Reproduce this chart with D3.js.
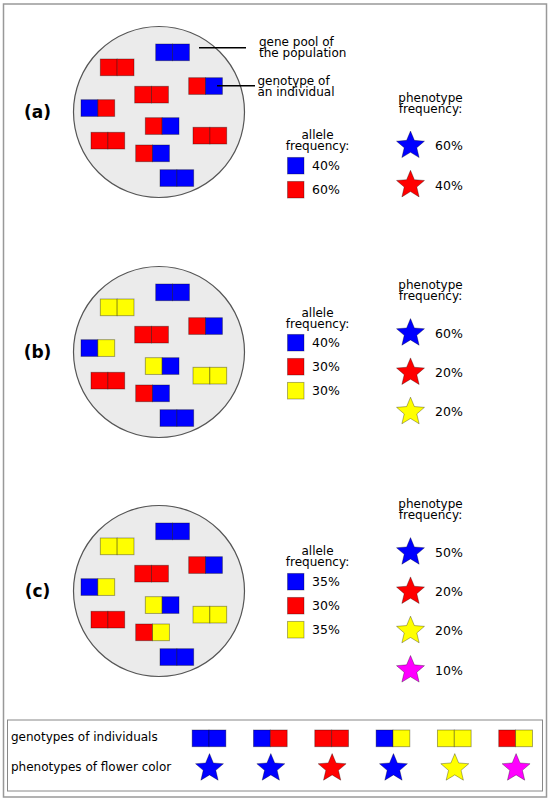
<!DOCTYPE html>
<html>
<head>
<meta charset="utf-8">
<script src="https://cdn.jsdelivr.net/npm/d3@7"></script>
<style>
  html, body { margin: 0; padding: 0; background: #fff; }
  svg { display: block; font-family: "DejaVu Sans", Verdana, sans-serif; }
</style>
</head>
<body>
<svg id="chart" width="550" height="801"></svg>
<script>
/* data: panels, genotypes (two alleles per individual), frequencies in % */
var panelLabels = ["(a)", "(b)", "(c)"];
var genotypesA = ["BB", "RR", "RB", "RR", "BR", "RB", "RR", "RR", "RB", "BB"];
var genotypesB = ["BB", "YY", "RB", "RR", "BY", "YB", "YY", "RR", "RB", "BB"];
var genotypesC = ["BB", "YY", "RB", "RR", "BY", "YB", "YY", "RR", "RY", "BB"];
var allelesA = ["B", "R"];
var alleleFreqA = [40, 60];
var allelesB = ["B", "R", "Y"];
var alleleFreqB = [40, 30, 30];
var allelesC = ["B", "R", "Y"];
var alleleFreqC = [35, 30, 35];
var phenotypesA = ["B", "R"];
var phenoFreqA = [60, 40];
var phenotypesB = ["B", "R", "Y"];
var phenoFreqB = [60, 20, 20];
var phenotypesC = ["B", "R", "Y", "M"];
var phenoFreqC = [50, 20, 20, 10];
var legendGenotypes = ["BB", "BR", "RR", "BY", "YY", "RY"];
var legendPhenotypes = ["B", "B", "R", "B", "Y", "M"];

/* colour of each allele / flower */
var color = d3.scaleOrdinal()
    .domain(["B", "R", "Y", "M"])
    .range(["#0000ff", "#ff0000", "#ffff00", "#ff00ff"]);

/* where the 10 individuals sit inside the circle (top-left, relative to centre) */
var slots = [[-3.3, -68], [-58.7, -53], [29.7, -34.3], [-24.3, -25.7], [-78, -12.3],
             [-13.7, 5.7], [34, 15.3], [-68, 20.3], [-23.3, 33], [1, 57.7]];

var cellW = 16.85, cellH = 16.7;
var circleX = 159, circleR = 85.5;
var lead = 11;

var panels = [
    { label: panelLabels[0], cy: 112, genotypes: genotypesA, alleles: allelesA, alleleFreq: alleleFreqA,
      phenos: phenotypesA, phenoFreq: phenoFreqA, alleleTitle: 27, alleleStart: 53.7, phenoTitle: -10.5, phenoStart: 33.7 },
    { label: panelLabels[1], cy: 352, genotypes: genotypesB, alleles: allelesB, alleleFreq: alleleFreqB,
      phenos: phenotypesB, phenoFreq: phenoFreqB, alleleTitle: -35.5, alleleStart: -9.3, phenoTitle: -63.5, phenoStart: -18.7 },
    { label: panelLabels[2], cy: 591, genotypes: genotypesC, alleles: allelesC, alleleFreq: alleleFreqC,
      phenos: phenotypesC, phenoFreq: phenoFreqC, alleleTitle: -36.5, alleleStart: -9.3, phenoTitle: -83.5, phenoStart: -38.7 }
];

var svg = d3.select("#chart");

/* 5-point star built with a radial line */
function starPath(r) {
    var pts = d3.range(10).map(function(i) {
        return [i * Math.PI / 5, i % 2 ? r * 0.45 : r];
    });
    return d3.lineRadial().curve(d3.curveLinearClosed)(pts);
}
var star = starPath(14.7);

function drawGenotype(g, code, x, y) {
    g.selectAll(null)
        .data(code.split(""))
        .enter().append("rect")
        .attr("x", function(d, i) { return x + i * cellW; })
        .attr("y", y)
        .attr("width", cellW)
        .attr("height", cellH)
        .attr("fill", function(d) { return color(d); })
        .attr("stroke", "rgba(0,0,0,0.38)")
        .attr("stroke-width", 0.9);
}

function drawStar(g, key, x, y) {
    g.append("path")
        .attr("d", star)
        .attr("transform", "translate(" + x + "," + y + ")")
        .attr("fill", color(key))
        .attr("stroke", "rgba(0,0,0,0.35)")
        .attr("stroke-width", 0.9);
}

function twoLines(g, x, y, lines, anchor) {
    g.append("text")
        .attr("x", x).attr("y", y)
        .attr("text-anchor", anchor).attr("font-size", 12)
        .selectAll("tspan")
        .data(lines)
        .enter().append("tspan")
        .attr("x", x)
        .attr("dy", function(d, i) { return i ? lead : 0; })
        .text(function(d) { return d; });
}

/* outer frame */
svg.append("rect")
    .attr("x", 3.5).attr("y", 4)
    .attr("width", 543).attr("height", 793)
    .attr("fill", "none").attr("stroke", "#999").attr("stroke-width", 1.5);

panels.forEach(function(p) {
    var g = svg.append("g");

    g.append("text")
        .attr("x", 37.5).attr("y", p.cy + 6)
        .attr("text-anchor", "middle")
        .attr("font-size", 17).attr("font-weight", "bold")
        .text(p.label);

    g.append("circle")
        .attr("cx", circleX).attr("cy", p.cy).attr("r", circleR)
        .attr("fill", "#ebebeb").attr("stroke", "#555").attr("stroke-width", 1.2);

    p.genotypes.forEach(function(code, i) {
        drawGenotype(g, code, circleX + slots[i][0], p.cy + slots[i][1]);
    });

    /* allele frequency block */
    twoLines(g, 317.5, p.cy + p.alleleTitle, ["allele", "frequency:"], "middle");

    var aY = d3.scalePoint()
        .domain(d3.range(p.alleles.length))
        .range([p.cy + p.alleleStart, p.cy + p.alleleStart + 24 * (p.alleles.length - 1)]);

    g.selectAll(null)
        .data(p.alleles)
        .enter().append("rect")
        .attr("x", 287.5)
        .attr("y", function(d, i) { return aY(i) - 8.3; })
        .attr("width", 16.5).attr("height", 16.6)
        .attr("fill", function(d) { return color(d); })
        .attr("stroke", "rgba(0,0,0,0.35)").attr("stroke-width", 0.9);

    g.selectAll(null)
        .data(p.alleleFreq)
        .enter().append("text")
        .attr("x", 312)
        .attr("y", function(d, i) { return aY(i); })
        .attr("dy", "0.36em")
        .attr("font-size", 12.5)
        .text(function(d) { return d + "%"; });

    /* phenotype frequency block */
    twoLines(g, 430.5, p.cy + p.phenoTitle, ["phenotype", "frequency:"], "middle");

    var pY = d3.scalePoint()
        .domain(d3.range(p.phenos.length))
        .range([p.cy + p.phenoStart, p.cy + p.phenoStart + 39.3 * (p.phenos.length - 1)]);

    p.phenos.forEach(function(k, i) { drawStar(g, k, 410.5, pY(i)); });

    g.selectAll(null)
        .data(p.phenoFreq)
        .enter().append("text")
        .attr("x", 435)
        .attr("y", function(d, i) { return pY(i); })
        .attr("dy", "0.36em")
        .attr("font-size", 12.5)
        .text(function(d) { return d + "%"; });
});

/* annotations on panel (a) */
var note = svg.append("g");
note.append("line").attr("x1", 199).attr("y1", 47.7).attr("x2", 246).attr("y2", 47.7)
    .attr("stroke", "#000").attr("stroke-width", 1.5);
note.append("line").attr("x1", 217).attr("y1", 85.7).attr("x2", 255).attr("y2", 85.7)
    .attr("stroke", "#000").attr("stroke-width", 1.5);
twoLines(note, 259, 45.5, ["gene pool of", "the population"], "start");
twoLines(note, 257.5, 84.5, ["genotype of", "an individual"], "start");

/* key at the bottom */
var key = svg.append("g");
key.append("rect")
    .attr("x", 7.5).attr("y", 720)
    .attr("width", 535).attr("height", 71)
    .attr("fill", "none").attr("stroke", "#888").attr("stroke-width", 1);
key.append("text").attr("x", 11).attr("y", 741).attr("font-size", 12)
    .text("genotypes of individuals");
key.append("text").attr("x", 11).attr("y", 771).attr("font-size", 12)
    .text("phenotypes of flower color");

var kx = d3.scalePoint()
    .domain(d3.range(legendGenotypes.length))
    .range([209, 515.6]);

legendGenotypes.forEach(function(code, i) {
    drawGenotype(key, code, kx(i) - cellW, 730);
});
legendPhenotypes.forEach(function(k, i) {
    drawStar(key, k, kx(i) + 0.5, 768.3);
});
</script>
</body>
</html>
